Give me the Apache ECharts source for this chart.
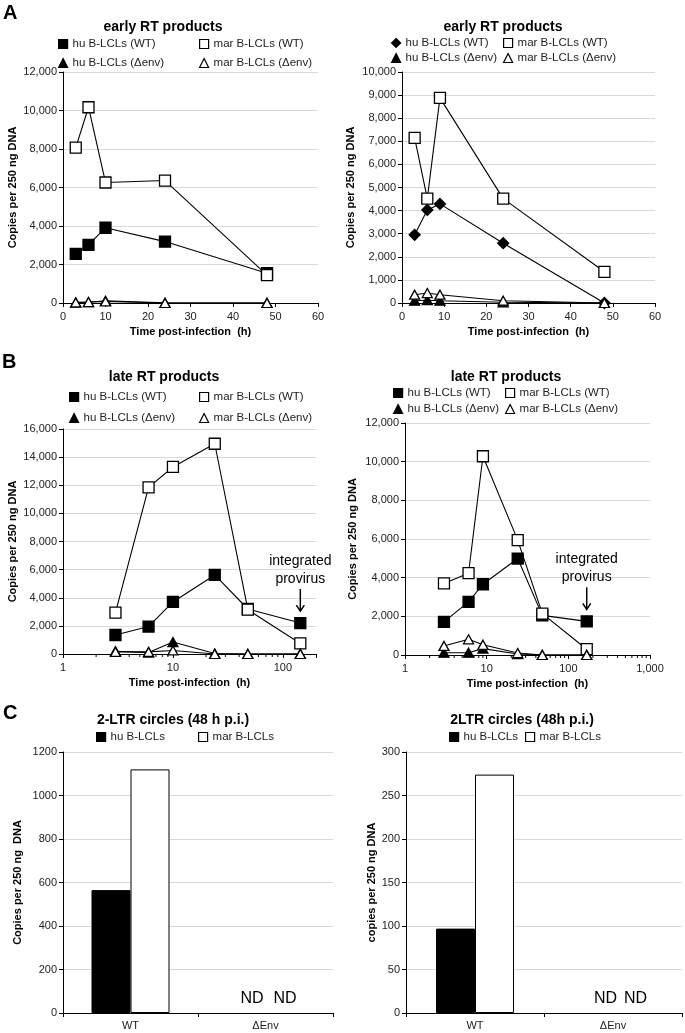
<!DOCTYPE html>
<html><head><meta charset="utf-8">
<script src="https://cdn.jsdelivr.net/npm/echarts@6/dist/echarts.min.js"></script>
<style>html,body{margin:0;padding:0;background:#fff}#c{width:685px;height:1033px}</style>
</head><body><div id="c"></div>
<script>
// ---------- DATA ----------
// Panel A (left) - early RT products
const aL_time   = [3, 6, 10, 24, 48];
const aL_huWT   = [2550, 3020, 3910, 3190, 1550];
const aL_marWT  = [8070, 10170, 6260, 6360, 1450];
const aL_huEnv  = [20, 40, 110, 10, 0];
const aL_marEnv = [30, 50, 80, 0, 0];
// Panel A (right)
const aR_time   = [3, 6, 9, 24, 48];
const aR_huWT   = [2950, 4030, 4290, 2590, 0];
const aR_marWT  = [7150, 4520, 8880, 4520, 1350];
const aR_huEnv  = [100, 120, 100, 30, 0];
const aR_marEnv = [360, 430, 360, 100, 0];
// Panel B (left) - late RT products
const bL_time   = [3, 6, 10, 24, 48, 144];
const bL_huWT   = [1350, 1950, 3700, 5620, 3200, 2200];
const bL_marWT  = [2940, 11850, 13300, 14950, 3150, 750];
const bL_huEnv  = [200, 100, 850, 30, 0, 0];
const bL_marEnv = [150, 150, 250, 0, 0, 0];
// Panel B (right)
const bR_time   = [3, 6, 9, 24, 48, 168];
const bR_huWT   = [1710, 2750, 3660, 4990, 2050, 1740];
const bR_marWT  = [3700, 4230, 10280, 5940, 2140, 300];
const bR_huEnv  = [120, 120, 330, 50, 0, 0];
const bR_marEnv = [470, 810, 530, 100, 0, 0];
// Panel C - 2-LTR circles
const cCats  = ['WT', 'ΔEnv'];
const cL_hu  = [565, 0];
const cL_mar = [1120, 0];
const cR_hu  = [97, 0];
const cR_mar = [274, 0];
const cNotes = ['', 'ND'];
// Tick labels / axis decoration
const logMinorTicks = [2,3,4,5,6,7,8,9,20,30,40,50,60,70,80,90,200,300,400,500,600,700,800,900];
const titles = ['early RT products', 'early RT products', 'late RT products', 'late RT products', '2-LTR circles (48 h p.i.)', '2LTR circles (48h p.i.)'];
const yNames = ['Copies per 250 ng DNA', 'Copies per 250 ng DNA', 'Copies per 250 ng DNA', 'Copies per 250 ng DNA', 'Copies per 250 ng  DNA', 'copies per 250 ng DNA'];
const xName = 'Time post-infection  (h)';
const N_HUWT = 'hu B-LCLs (WT)', N_MARWT = 'mar B-LCLs (WT)', N_HUENV = 'hu B-LCLs (Δenv)', N_MARENV = 'mar B-LCLs (Δenv)';
const N_HU = 'hu B-LCLs', N_MAR = 'mar B-LCLs';

// ---------- STYLE HELPERS ----------
const FONT = '"Liberation Sans", Arial, sans-serif';
const TXT = '#222';
const comma = v => Number(v).toLocaleString('en-US');
const isPow10 = v => Math.abs(Math.log10(v) - Math.round(Math.log10(v))) < 1e-6;

const grids = [
  {left: 63,  top: 72,  width: 255, height: 231},
  {left: 402, top: 72,  width: 253, height: 231},
  {left: 63,  top: 429, width: 253, height: 225},
  {left: 405, top: 423, width: 245, height: 232},
  {left: 63,  top: 752, width: 270, height: 261},
  {left: 406, top: 752, width: 276, height: 261}
];

function yAxis(g, max, interval, gap, fmt) {
  return {
    type: 'value', gridIndex: g, min: 0, max, interval,
    name: yNames[g], nameLocation: 'middle', nameRotate: 90, nameGap: gap,
    nameTextStyle: {fontFamily: FONT, fontSize: 11, fontWeight: 'bold', color: '#000'},
    axisLine: {show: true, lineStyle: {color: '#000', width: 1}},
    axisTick: {show: true, length: 4, lineStyle: {color: '#000', width: 1}},
    axisLabel: {fontFamily: FONT, fontSize: 11, color: TXT, margin: 6, formatter: fmt},
    splitLine: {show: true, lineStyle: {color: '#d9d9d9', width: 1}}
  };
}
function xCommon(g) {
  return {
    gridIndex: g, name: xName, nameLocation: 'middle', nameGap: 23,
    nameTextStyle: {fontFamily: FONT, fontSize: 11, fontWeight: 'bold', color: '#000'},
    axisLine: {show: true, onZero: false, lineStyle: {color: '#000', width: 1}},
    axisTick: {show: true, length: 4, lineStyle: {color: '#000', width: 1}},
    axisLabel: {fontFamily: FONT, fontSize: 11, color: TXT, margin: 8},
    splitLine: {show: false}
  };
}
const xAxes = [
  Object.assign(xCommon(0), {type: 'value', min: 0, max: 60, interval: 10}),
  Object.assign(xCommon(1), {type: 'value', min: 0, max: 60, interval: 10}),
  Object.assign(xCommon(2), {type: 'log', logBase: 10, min: 1, max: 200}),
  Object.assign(xCommon(3), {type: 'log', logBase: 10, min: 1, max: 1000}),
  {type: 'category', gridIndex: 4, data: cCats, boundaryGap: true,
   axisLine: {show: true, lineStyle: {color: '#000', width: 1}},
   axisTick: {show: true, length: 4, alignWithLabel: false, lineStyle: {color: '#000'}},
   axisLabel: {fontFamily: FONT, fontSize: 11, color: TXT, margin: 7}},
  {type: 'category', gridIndex: 5, data: cCats, boundaryGap: true,
   axisLine: {show: true, lineStyle: {color: '#000', width: 1}},
   axisTick: {show: true, length: 4, alignWithLabel: false, lineStyle: {color: '#000'}},
   axisLabel: {fontFamily: FONT, fontSize: 11, color: TXT, margin: 7}}
];
xAxes[2].axisLabel.formatter = v => isPow10(v) ? comma(v) : '';
xAxes[3].axisLabel.formatter = v => isPow10(v) ? comma(v) : '';

const yAxes = [
  yAxis(0, 12000, 2000, 45, comma),
  yAxis(1, 10000, 1000, 46, comma),
  yAxis(2, 16000, 2000, 45, comma),
  yAxis(3, 12000, 2000, 47, comma),
  yAxis(4, 1200, 200, 40, v => String(v)),
  yAxis(5, 300, 50, 28, v => String(v))
];

function line(name, g, xs, ys, symbol, filled, size) {
  return {
    type: 'line', name, xAxisIndex: g, yAxisIndex: g,
    data: xs.map((x, i) => [x, ys[i]]),
    symbol, symbolSize: size, showSymbol: true,
    lineStyle: {color: '#000', width: 1.1},
    itemStyle: {color: filled ? '#000' : '#fff', borderColor: '#000', borderWidth: 1.3},
    emphasis: {disabled: true}, animation: false
  };
}
function panelLines(g, t, hu, mar, huE, marE, huSym) {
  return [
    line(N_HUWT, g, t, hu, huSym, true, 11),
    line(N_MARWT, g, t, mar, 'rect', false, 11),
    line(N_HUENV, g, t, huE, 'triangle', true, [10, 9]),
    line(N_MARENV, g, t, marE, 'triangle', false, [10, 9])
  ];
}
function minorTicks(g, max) {
  return {
    type: 'custom', xAxisIndex: g, yAxisIndex: g, silent: true, animation: false,
    data: logMinorTicks.filter(v => v < max).map(v => [v, 0]),
    renderItem: (params, api) => {
      const p = api.coord([api.value(0), 0]);
      return {type: 'line', shape: {x1: p[0], y1: p[1], x2: p[0], y2: p[1] + 3},
              style: {stroke: '#000', lineWidth: 1}};
    }
  };
}
function bars(name, g, vals, filled, ndOffset) {
  return {
    type: 'bar', name, xAxisIndex: g, yAxisIndex: g, barWidth: 39, barGap: '0%',
    itemStyle: {color: filled ? '#000' : '#fff', borderColor: '#000', borderWidth: 1},
    label: {show: false, position: 'top', distance: 6, offset: [ndOffset, 0],
            fontFamily: FONT, fontSize: 16, color: '#000'},
    data: vals.map((v, i) => cNotes[i]
      ? {value: v, itemStyle: {borderWidth: 0, borderColor: 'rgba(0,0,0,0)'},
         label: {show: true, formatter: cNotes[i]}}
      : v),
    emphasis: {disabled: true}, animation: false
  };
}
function leg(name, left, cy, icon, filled) {
  return {
    left, top: cy - 7, padding: 0, itemWidth: 9, itemHeight: 9, itemGap: 0, selectedMode: false,
    textStyle: {fontFamily: FONT, fontSize: 11.5, color: TXT, lineHeight: 14},
    data: [{name, icon, itemStyle: {color: filled ? '#000' : '#fff', borderColor: '#000', borderWidth: 1.2}}]
  };
}

const legends = [
  leg(N_HUWT, 58, 44, 'rect', true), leg(N_MARWT, 199, 44, 'rect', false),
  leg(N_HUENV, 58, 63, 'triangle', true), leg(N_MARENV, 199, 63, 'triangle', false),
  leg(N_HUWT, 391, 43, 'diamond', true), leg(N_MARWT, 503, 43, 'rect', false),
  leg(N_HUENV, 391, 58, 'triangle', true), leg(N_MARENV, 503, 58, 'triangle', false),
  leg(N_HUWT, 69, 397, 'rect', true), leg(N_MARWT, 199, 397, 'rect', false),
  leg(N_HUENV, 69, 418, 'triangle', true), leg(N_MARENV, 199, 418, 'triangle', false),
  leg(N_HUWT, 393, 393, 'rect', true), leg(N_MARWT, 505, 393, 'rect', false),
  leg(N_HUENV, 393, 409, 'triangle', true), leg(N_MARENV, 505, 409, 'triangle', false),
  leg(N_HU, 96, 737, 'rect', true), leg(N_MAR, 198, 737, 'rect', false),
  leg(N_HU, 449, 737, 'rect', true), leg(N_MAR, 525, 737, 'rect', false)
];

const series = [].concat(
  panelLines(0, aL_time, aL_huWT, aL_marWT, aL_huEnv, aL_marEnv, 'rect'),
  panelLines(1, aR_time, aR_huWT, aR_marWT, aR_huEnv, aR_marEnv, 'diamond'),
  [minorTicks(2, 200)],
  panelLines(2, bL_time, bL_huWT, bL_marWT, bL_huEnv, bL_marEnv, 'rect'),
  [minorTicks(3, 1000)],
  panelLines(3, bR_time, bR_huWT, bR_marWT, bR_huEnv, bR_marEnv, 'rect'),
  [bars(N_HU, 4, cL_hu, true, 6), bars(N_MAR, 4, cL_mar, false, 0)],
  [bars(N_HU, 5, cR_hu, true, 12), bars(N_MAR, 5, cR_mar, false, 3)]
);

const chart = echarts.init(document.getElementById('c'), null, {renderer: 'canvas'});
chart.setOption({
  animation: false,
  backgroundColor: '#fff',
  grid: grids, xAxis: xAxes, yAxis: yAxes, legend: legends, series
});

// ---------- TEXT / ANNOTATIONS ----------
const gfx = [];
function txt(text, x, y, size, weight, align) {
  gfx.push({type: 'text', x, y, silent: true,
    style: {text, fontFamily: FONT, fontSize: size, fontWeight: weight, fill: '#000',
            align: align || 'center', verticalAlign: 'middle'}});
}
txt('A', 3, 13, 20, 'bold', 'left');
txt('B', 2, 362, 20, 'bold', 'left');
txt('C', 3, 713, 20, 'bold', 'left');
const titlePos = [[163, 27], [503, 27], [164, 377], [506, 377], [173, 720], [522, 720]];
titles.forEach((t, i) => txt(t, titlePos[i][0], titlePos[i][1], 14, 'bold'));

function provirus(g, x, y) {
  const p = chart.convertToPixel({xAxisIndex: g, yAxisIndex: g}, [x, y]);
  txt('integrated', p[0], p[1] - 62, 14, 'normal');
  txt('provirus', p[0], p[1] - 44, 14, 'normal');
  gfx.push({type: 'line', silent: true, shape: {x1: p[0], y1: p[1] - 34, x2: p[0], y2: p[1] - 12},
            style: {stroke: '#000', lineWidth: 1.5}});
  gfx.push({type: 'polyline', silent: true,
            shape: {points: [[p[0] - 4, p[1] - 18], [p[0], p[1] - 12], [p[0] + 4, p[1] - 18]]},
            style: {stroke: '#000', lineWidth: 1.5, fill: null}});
}
provirus(2, bL_time[bL_time.length - 1], bL_huWT[bL_huWT.length - 1]);
provirus(3, bR_time[bR_time.length - 1], bR_huWT[bR_huWT.length - 1]);

chart.setOption({graphic: {elements: gfx}});
</script></body></html>
